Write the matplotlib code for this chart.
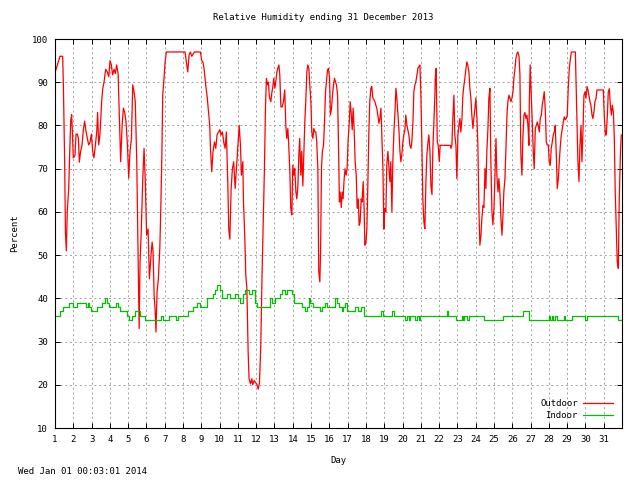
import matplotlib
matplotlib.use("Agg")
import matplotlib.pyplot as plt

# Outdoor relative humidity (%), day of month as x
out_day = [
    1.02, 1.13, 1.27, 1.42, 1.46, 1.53, 1.57, 1.62, 1.67, 1.75, 1.82, 1.86, 1.91, 1.95,
    2.00, 2.09, 2.15, 2.22, 2.28, 2.33, 2.40, 2.48, 2.55, 2.62, 2.70, 2.77, 2.84, 2.91,
    2.99, 3.06, 3.13, 3.21, 3.28, 3.33, 3.39, 3.46, 3.55, 3.61, 3.68, 3.77, 3.86, 3.94,
    4.01, 4.08, 4.15, 4.23, 4.30, 4.37, 4.45, 4.52, 4.59, 4.67, 4.74, 4.81, 4.88, 4.96,
    5.03, 5.10, 5.18, 5.25, 5.32, 5.39, 5.47, 5.54, 5.60, 5.65, 5.72, 5.80, 5.87, 5.94,
    6.01, 6.09, 6.16, 6.25, 6.31, 6.36, 6.42, 6.47, 6.52, 6.58, 6.65, 6.73, 6.78, 6.84,
    6.89, 6.96, 7.02, 7.09, 8.11, 8.18, 8.26, 8.33, 8.40, 8.48, 8.62, 8.95, 9.02, 9.10,
    9.17, 9.24, 9.32, 9.39, 9.46, 9.50, 9.57, 9.64, 9.72, 9.79, 9.86, 9.94, 10.01, 10.08,
    10.15, 10.23, 10.30, 10.37, 10.45, 10.50, 10.56, 10.63, 10.70, 10.77, 10.85, 10.92,
    10.99, 11.07, 11.14, 11.19, 11.27, 11.30, 11.38, 11.43, 11.49, 11.56, 11.61, 11.69,
    11.76, 11.81, 11.89, 11.96, 12.03, 12.11, 12.18, 12.25, 12.32, 12.40, 12.45, 12.51,
    12.56, 12.62, 12.67, 12.72, 12.80, 12.85, 12.91, 12.96, 13.02, 13.07, 13.13, 13.18,
    13.24, 13.29, 13.35, 13.42, 13.49, 13.56, 13.62, 13.67, 13.73, 13.78, 13.84, 13.89,
    13.95, 14.00, 14.06, 14.11, 14.17, 14.22, 14.28, 14.33, 14.38, 14.44, 14.49, 14.55,
    14.60, 14.66, 14.71, 14.77, 14.82, 14.88, 14.93, 14.99, 15.04, 15.10, 15.15, 15.21,
    15.26, 15.31, 15.37, 15.42, 15.48, 15.52, 15.57, 15.62, 15.68, 15.73, 15.79, 15.84,
    15.90, 15.95, 16.01, 16.06, 16.12, 16.17, 16.23, 16.28, 16.34, 16.39, 16.45, 16.50,
    16.55, 16.59, 16.65, 16.70, 16.75, 16.81, 16.86, 16.92, 16.97, 17.03, 17.08, 17.14,
    17.19, 17.25, 17.30, 17.36, 17.41, 17.47, 17.52, 17.58, 17.63, 17.68, 17.74, 17.79,
    17.85, 17.90, 17.94, 18.00, 18.05, 18.10, 18.16, 18.21, 18.27, 18.32, 18.38, 18.43,
    18.49, 18.54, 18.60, 18.65, 18.71, 18.76, 18.82, 18.87, 18.93, 18.98, 19.03, 19.09,
    19.14, 19.20, 19.25, 19.31, 19.36, 19.42, 19.47, 19.53, 19.58, 19.64, 19.69, 19.75,
    19.80, 19.86, 19.91, 19.96, 20.02, 20.07, 20.13, 20.18, 20.24, 20.29, 20.35, 20.40,
    20.46, 20.51, 20.57, 20.62, 20.68, 20.73, 20.79, 20.84, 20.89, 20.95, 21.00, 21.06,
    21.11, 21.17, 21.22, 21.28, 21.33, 21.39, 21.44, 21.50, 21.55, 21.61, 21.66, 21.72,
    21.77, 21.79, 21.84, 21.90, 21.95, 22.01, 22.06, 22.61, 22.65, 22.70, 22.75, 22.81,
    22.86, 22.92, 22.97, 23.03, 23.08, 23.14, 23.19, 23.25, 23.30, 23.36, 23.41, 23.47,
    23.52, 23.57, 23.63, 23.68, 23.74, 23.79, 23.85, 23.90, 23.96, 24.01, 24.07, 24.12,
    24.18, 24.23, 24.29, 24.34, 24.40, 24.45, 24.51, 24.56, 24.61, 24.67, 24.72, 24.78,
    24.83, 24.89, 24.94, 25.00, 25.05, 25.11, 25.16, 25.22, 25.27, 25.33, 25.38, 25.44,
    25.49, 25.54, 25.60, 25.65, 25.71, 25.76, 25.82, 25.87, 25.93, 25.98, 26.04, 26.09,
    26.15, 26.20, 26.26, 26.31, 26.37, 26.42, 26.47, 26.53, 26.58, 26.64, 26.69, 26.75,
    26.80, 26.86, 26.91, 26.93, 26.98, 27.04, 27.09, 27.15, 27.20, 27.26, 27.31, 27.37,
    27.42, 27.48, 27.53, 27.59, 27.64, 27.70, 27.75, 27.81, 27.86, 27.91, 27.97, 28.02,
    28.08, 28.13, 28.19, 28.24, 28.30, 28.35, 28.41, 28.46, 28.52, 28.57, 28.63, 28.68,
    28.74, 28.79, 28.84, 28.90, 28.95, 29.01, 29.06, 29.12, 29.17, 29.23, 29.45, 29.48,
    29.54, 29.59, 29.65, 29.70, 29.76, 29.81, 29.87, 29.92, 29.98, 30.03, 30.09, 30.14,
    30.19, 30.25, 30.30, 30.36, 30.41, 30.47, 30.52, 30.58, 30.63, 30.98, 31.03, 31.09,
    31.14, 31.20, 31.25, 31.31, 31.36, 31.42, 31.47, 31.53, 31.58, 31.63, 31.69, 31.74,
    31.80, 31.85, 31.91, 31.96,
]
out_rh = [
    92.5, 94, 96, 96, 89, 71, 55.5, 51, 60, 65.5, 76, 81, 82.5, 78.5,
    72.5, 73, 78, 78, 77, 71.5, 74, 75.5, 79, 81, 78.5, 77, 75.5, 76,
    78, 74, 72.5, 75.5, 78.5, 83, 75.5, 78, 85.5, 88.5, 90, 93, 92.4, 91.3,
    95, 94, 91.7, 93, 92, 94, 92, 81.7, 71.6, 80, 84, 83, 81, 75.5,
    67.8, 74, 77, 89.4, 87.8, 85.5, 71.6, 51.5, 33, 48.4, 56, 67.8, 74.7, 66.5,
    54.6, 56, 44.5, 50, 53, 51, 40.7, 37.6, 32.2, 41.5, 44.5, 51.5, 60, 72.4,
    87, 90.9, 94.7, 97, 97, 94.7, 92.4, 96.3, 97, 96, 97, 97, 95.1, 94.5,
    92.4, 89.4, 86.6, 83.2, 80, 74.7, 69.3, 74, 76.2, 74.7, 77.8, 78.5, 79, 77.8,
    78.5, 76, 74.7, 78.5, 66.2, 56, 53.7, 65.4, 70, 71.6, 65.4, 70,
    74.7, 80, 75.4, 68.5, 71.6, 63, 53.8, 45.4, 42.3, 27.6, 21.4, 20.2,
    21.4, 20, 21, 20.5, 20.2, 19, 20.5, 29, 45.4, 60.8, 70, 84.7,
    90.9, 89.4, 90, 86.6, 85.5, 87.4, 89, 90.9, 88.6, 90, 92.4, 93.2,
    94, 91.7, 84.3, 84.3, 85.5, 88.2, 80, 77, 79.3, 75.4, 69.3, 60.8,
    59.3, 70.8, 68.5, 70, 64.6, 63, 66, 73, 77, 68.5, 74, 66,
    73, 81, 85.5, 92.4, 94, 93.2, 89.4, 85.5, 78.5, 77, 79.3, 78.5,
    78.5, 76.2, 70, 46.2, 43.8, 51, 70, 74, 75.4, 80, 87.8, 90.1,
    92.8, 93.2, 91, 82.4, 84, 87, 89.4, 90.9, 90, 89.4, 87, 75.4,
    62.3, 64.6, 61, 64.6, 63, 67.7, 70, 68.5, 70, 77, 80, 85.5,
    83, 79, 84, 78.5, 71.6, 68.5, 60.8, 63, 56.9, 57.5, 63, 62.3,
    67, 60.8, 52.3, 53, 56, 65.4, 78.5, 85.5, 88.6, 89, 86.3, 86,
    85.5, 84.7, 83.9, 82.4, 80.5, 81.6, 84, 77.8, 70, 56, 60.8, 60,
    70.8, 74, 70.8, 67, 71.6, 60, 71.6, 78.5, 82.4, 88.6, 86.3, 82.4,
    79.3, 74, 71.6, 73.1, 76.2, 77.8, 79, 82.4, 80, 79, 77.8, 75.4,
    74.7, 76.2, 80.8, 87.8, 89.4, 90.1, 91.7, 93.2, 93.6, 94, 87.8, 75.4,
    63, 57.6, 56.1, 67, 73.1, 76, 77.8, 74, 66.2, 64, 74.7, 81.6,
    87, 90.9, 93.2, 76.2, 75.5, 71.6, 75.4, 75.4, 74.7, 75.4, 81.6, 87,
    77.8, 75.4, 67.7, 77.8, 80, 81.6, 78.5, 81.6, 87, 89.4, 90.9, 93.2,
    94.7, 94, 92.4, 88.6, 86.3, 82.4, 79.3, 81.6, 84, 86.3, 81.6, 75.4,
    60, 52.3, 54.6, 58.5, 61.5, 61, 70, 65.4, 74, 79.3, 86.3, 88.6,
    71.6, 60, 57, 60.8, 67.7, 77, 68.5, 64.6, 67.7, 64, 58.5, 54.6,
    59, 64.6, 67.7, 74, 82.4, 85.5, 87, 86.3, 85.5, 86.3, 87.8, 90.9,
    93.2, 95.5, 96.7, 97, 96, 91.7, 73.1, 68.5, 77, 82.4, 83, 81.6,
    82.4, 80, 75.4, 84.7, 94, 87, 80.8, 73.9, 70, 79.3, 80, 80.8,
    80, 78.5, 81.6, 82.4, 84.7, 86.3, 87.8, 83.2, 76.2, 75.5, 75.5, 71.6,
    70.8, 74.7, 76.2, 77.8, 78.5, 80, 73.1, 65.4, 67.7, 71.6, 75.4, 77.8,
    79.3, 80.8, 82, 81.3, 81.6, 82.4, 88.6, 93.2, 95.1, 97, 97, 91.7,
    81.6, 71.6, 67, 75.4, 80, 71.6, 79.3, 87, 87.8, 86.3, 89, 88.2,
    87, 85.5, 84.7, 82.4, 81.6, 83.2, 85.5, 86.3, 88.2, 88.2, 82.4, 77.8,
    77.8, 82.4, 87.8, 88.5, 84.7, 82.4, 84.7, 83, 77, 64.6, 56.1, 48.4,
    46.9, 63, 73.1, 77.8,
]

# Indoor relative humidity (%), step changes
in_day = [
    1.00, 1.27, 1.46, 1.78, 2.00, 2.22, 2.70, 2.81, 2.88, 2.99, 3.28, 3.55, 3.74,
    3.86, 3.97, 4.34, 4.45, 4.56, 4.92, 5.07, 5.21, 5.39, 5.65, 5.92, 6.80, 6.93,
    7.24, 7.60, 7.71, 8.29, 8.57, 8.75, 8.93, 9.30, 9.66, 9.75, 9.84, 10.03, 10.12,
    10.39, 10.57, 10.85, 10.99, 11.12, 11.30, 11.39, 11.58, 11.76, 11.94, 12.07,
    12.76, 12.85, 13.03, 13.31, 13.40, 13.58, 13.67, 13.95, 14.04, 14.49, 14.68,
    14.77, 14.86, 14.95, 15.13, 15.50, 15.59, 15.77, 15.86, 16.32, 16.41, 16.54,
    16.68, 16.77, 16.86, 16.96, 17.41, 17.56, 17.74, 17.92, 18.80, 18.96, 19.42,
    19.51, 20.11, 20.22, 20.33, 20.42, 20.69, 20.78, 20.88, 20.97, 22.43, 22.48,
    22.94, 23.25, 23.30, 23.37, 23.52, 23.61, 24.07, 24.43, 25.49, 26.58, 26.91,
    26.93, 27.99, 28.06, 28.17, 28.24, 28.35, 28.46, 28.81, 28.90, 29.01, 29.26,
    29.99, 30.10, 31.76, 32.00,
]
in_rh = [
    36, 37, 38, 39, 38, 39, 38, 39, 38, 37, 38, 39, 40,
    39, 38, 39, 38, 37, 36, 35, 36, 37, 36, 35, 36, 35,
    36, 35, 36, 37, 38, 39, 38, 40, 41, 42, 43, 42, 40,
    41, 40, 41, 40, 39, 41, 42, 41, 42, 39, 38,
    40, 39, 40, 41, 42, 41, 42, 41, 39, 38, 37,
    38, 40, 39, 38, 37, 38, 39, 38, 40, 39, 38,
    37, 38, 39, 37, 38, 37, 38, 36, 37, 36, 37,
    36, 35, 36, 35, 36, 35, 36, 35, 36, 37, 36,
    35, 36, 35, 36, 35, 36, 36, 35, 36, 37, 36,
    35, 36, 35, 36, 35, 36, 35, 36, 35, 35, 36,
    35, 36, 35, 35,
]

day_ticks = list(range(1, 32))
pct_ticks = list(range(10, 101, 10))
title = "Relative Humidity ending 31 December 2013"
stamp = "Wed Jan 01 00:03:01 2014"

plt.rcParams['font.family'] = ['DejaVu Sans Mono']
plt.rcParams['font.size'] = 6.5

fig = plt.figure(figsize=(6.4, 4.8), dpi=100)
ax = fig.add_axes([55 / 640, 1 - 428 / 480, 567 / 640, 389 / 480])

ax.plot(out_day, out_rh, color='#ff0000', lw=0.9, label='Outdoor')
ax.plot(in_day, in_rh, color='#00c000', lw=0.9, drawstyle='steps-post', label='Indoor')

ax.set_xlim(1, 32)
ax.set_ylim(10, 100)
ax.set_xticks(day_ticks)
ax.set_yticks(pct_ticks)
ax.tick_params(direction='in', length=3.5, width=0.7, top=True, right=True, pad=5,
               labelsize=6.5, colors='black')
ax.grid(True, color='#a0a0a0', lw=0.7, linestyle=(0, (2, 3)))
for sp in ax.spines.values():
    sp.set_linewidth(0.8)

ax.set_xlabel('Day', labelpad=9)
ax.set_ylabel('Percent', labelpad=9)

leg = ax.legend(loc='lower right', bbox_to_anchor=(0.995, 0.005), frameon=False,
                markerfirst=False, handlelength=3.3, handletextpad=0.6,
                labelspacing=0.25, borderaxespad=0.3)
for t in leg.get_texts():
    t.set_ha('right')

fig.text(0.505, 1 - 18 / 480, title, ha='center', va='center')
fig.text(18 / 640, 1 - 471 / 480, stamp, ha='left', va='center')

fig.savefig('out.png', dpi=100)
